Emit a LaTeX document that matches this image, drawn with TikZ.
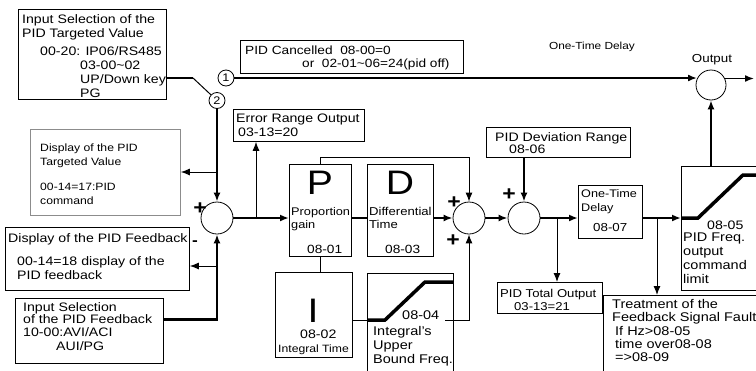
\documentclass[tikz,border=0pt]{standalone}
\usepackage{fontspec}
\setmainfont[FakeStretch=1.15]{Liberation Sans}
\usetikzlibrary{arrows.meta}
\newcommand\fsz[2]{\fontsize{#1}{#2}\selectfont}

\begin{document}
\begin{tikzpicture}[x=1pt, y=-1pt, >={Latex[length=9pt,width=7pt]},
  box/.style={draw, line width=0.8pt, inner sep=0pt, anchor=north west},
  txt/.style={font=\fsz{12.3}{14}, align=left, inner sep=0pt, anchor=base west},
  txtblock/.style={txt, anchor=north west},
  junction/.style={draw, circle, line width=0.8pt, minimum size=32pt, inner sep=0pt},
  port/.style={draw, circle, line width=0.8pt, minimum size=16pt, inner sep=0pt, font=\fsz{11}{11}},
  bigletter/.style={font=\fsz{34}{34}, inner sep=0pt, anchor=base},
  signlbl/.style={font=\fsz{20}{20}\bfseries, inner sep=0pt},
  flow/.style={line width=2.4pt},
  wire/.style={line width=1.6pt},
  sig/.style={line width=1pt},
  ramp/.style={line width=3.5pt}]
  \useasboundingbox (0,0) rectangle (756,370);

  \node[box, minimum width=148pt, minimum height=90pt] (selpid) at (18,9) {};
  \node[txtblock] (selpidt) at (22,14) {Input Selection of the\\PID Targeted Value\\[4pt]\hspace*{18pt}00-20: IP06/RS485\\\hspace*{58pt}03-00\textasciitilde 02\\\hspace*{58pt}UP/Down key\\\hspace*{58pt}PG};

  \node[box, draw=black!45, minimum width=150pt, minimum height=86pt] (showref) at (30,129) {};
  \node[txtblock, font=\fsz{10.6}{14}] (showreft) at (40,143.3) {Display of the PID\\Targeted Value\\[11pt]00-14=17:PID\\command};

  \node[box, minimum width=184pt, minimum height=63pt] (showfb) at (5,227) {};
  \node[txtblock] (showfbt) at (8,233) {Display of the PID Feedback\\[9pt]\hspace*{9pt}00-14=18 display of the\\\hspace*{9pt}PID feedback};

  \node[box, minimum width=148pt, minimum height=65pt] (selfb) at (15,298) {};
  \node[txtblock] (selfbt) at (23,302.5) {Input Selection\\[-2.5pt]of the PID Feedback\\[-0.5pt]10-00:AVI/ACI\\\hspace*{33pt}AUI/PG};

  \node[box, minimum width=131pt, minimum height=32pt] (errout) at (233,109) {};
  \node[txtblock] (errt) at (236,114) {Error Range Output\\\hspace*{2pt}03-13=20};

  \node[box, minimum width=223pt, minimum height=33pt] (pidcan) at (240,40) {};
  \node[txtblock, font=\fsz{11.9}{13.5}] (pidcant) at (245,45.3) {PID Cancelled\ \ 08-00=0\\\hspace*{57pt}or\ \ 02-01\textasciitilde 06=24(pid off)};

  \node[box, minimum width=62pt, minimum height=92pt] (pbox) at (289,164) {};
  \node[bigletter] (pl) at (320,194) {P};
  \node[txtblock, font=\fsz{11.1}{13}] (pt) at (291,206.9) {Proportion\\gain};
  \node[txt, font=\fsz{11.9}{14}] (pnum) at (307,253) {08-01};

  \node[box, minimum width=66pt, minimum height=92pt] (dbox) at (367,164) {};
  \node[bigletter] (dl) at (400,194) {D};
  \node[txtblock, font=\fsz{11.4}{13}] (dt) at (369,206.7) {Differential\\Time};
  \node[txt, font=\fsz{11.9}{14}] (dnum) at (385,253) {08-03};

  \node[box, minimum width=77pt, minimum height=85pt] (ibox) at (275,272) {};
  \node[bigletter] (il) at (313,322) {I};
  \node[txt] (inum) at (300,338) {08-02};
  \node[txt, font=\fsz{10.6}{14}] (it) at (278,352) {Integral Time};

  \node[box, minimum width=86pt, minimum height=99pt] (ilim) at (367,273) {};
  \node[txt, font=\fsz{12.6}{14}] (ilimnum) at (402,319) {08-04};
  \node[txtblock, font=\fsz{12.6}{14}] (ilimt) at (373,325.8) {Integral's\\Upper\\Bound Freq.};

  \node[box, minimum width=144pt, minimum height=30pt] (devr) at (486,127) {};
  \node[txtblock] (devrt) at (495,132.5) {PID Deviation Range\\[-2.4pt]\hspace*{14pt}08-06};

  \node[box, minimum width=64pt, minimum height=53pt] (delay) at (578,185) {};
  \node[txtblock, font=\fsz{11}{14}] (delayt) at (581,189) {One-Time\\Delay};
  \node[txt, font=\fsz{11.6}{14}] (delaynum) at (593,231) {08-07};

  \node[box, minimum width=90pt, minimum height=124pt] (flim) at (681,166) {};
  \node[txt] (flimnum) at (707,229) {08-05};
  \node[txtblock, font=\fsz{12.6}{14}] (flimt) at (683,232.8) {PID Freq.\\output\\command\\limit};

  \node[box, minimum width=105pt, minimum height=31pt] (total) at (497,282) {};
  \node[txtblock, font=\fsz{11.4}{13}] (totalt) at (500,288.7) {PID Total Output\\\hspace*{14pt}03-13=21};

  \node[box, minimum width=160pt, minimum height=80pt] (treat) at (603,295) {};
  \node[txtblock, font=\fsz{12.6}{13.3}] (treatt) at (612,299.3) {Treatment of the\\Feedback Signal Fault\\\hspace*{3pt}If Hz>08-05\\\hspace*{3pt}time over08-08\\\hspace*{3pt}=>08-09};

  \node[port] (sw1) at (226,78) {1};
  \node[port] (sw2) at (217,100.5) {2};
  \node[junction] (sum1) at (217,218) {};
  \node[junction] (sum2) at (469,218) {};
  \node[junction] (sum3) at (524,218) {};
  \node[junction, minimum size=30pt] (out) at (711,85) {};
  \node[font=\fsz{11.6}{14}, anchor=base] (outlbl) at (712,62) {Output};
  \node[font=\fsz{10.3}{12}, anchor=base] (delaylbl) at (592,49) {One-Time Delay};

  \node[signlbl] (s1p) at (200,209) {+};
  \node[signlbl, font=\fsz{15}{15}\bfseries] (s1m) at (195,243) {-};
  \node[signlbl] (s2a) at (454,203) {+};
  \node[signlbl] (s2b) at (453,241) {+};
  \node[signlbl] (s3p) at (509,195) {+};

  \coordinate (swpt) at (193,78);
  \coordinate (tapref) at (217,172);
  \coordinate (tapfb) at (217,266);
  \coordinate (taperr) at (256,218);
  \coordinate (taptot) at (557,218);
  \coordinate (taptr) at (657,218);
  \coordinate (ilimout) at (445,320);
  \coordinate (outend) at (754,78);

  \draw[wire] (selpid.east |- sw1) -- (swpt);
  \draw[sig] (swpt) -- (sw2);
  \draw[flow, ->] (sw1) -- (sw1 -| out.155);
  \draw[wire, ->] (out.25) -- (out.25 -| outend);
  \draw[flow, ->] (sw2) -- (sum1);
  \draw[sig, ->] (tapref) -- (tapref -| showref.east);
  \draw[flow, ->] ([yshift=11.5pt]selfb.east) -| (sum1);
  \draw[sig, ->] (tapfb) -- (tapfb -| showfb.east);
  \draw[flow, ->] (sum1) -- (sum1 -| pbox.west);
  \draw[sig, ->] (taperr) -- (taperr |- errout.south);
  \draw[flow] (sum1 -| pbox.east) -- (sum1 -| dbox.west);
  \draw[flow, ->] (sum1 -| dbox.east) -- (sum2);
  \draw[sig, ->] (pbox.north) -- ++(0,-7) -| (sum2);
  \draw[sig] (pbox.south) -- (pbox.south |- ibox.north);
  \draw[sig] ([yshift=-6pt]ibox.east) -- ([yshift=-6pt]ibox.east -| ilim.west);
  \draw[ramp] (367,320) -- (385,320) -- (425,282) -- (453,282);
  \draw[sig, ->] (ilimout) -| (sum2);
  \draw[flow, ->] (sum2) -- (sum3);
  \draw[flow, ->] (devr.south -| sum3) -- (sum3);
  \draw[flow, ->] (sum3) -- (sum3 -| delay.west);
  \draw[sig, ->] (taptot) -- (taptot |- total.north);
  \draw[flow, ->] (sum3 -| delay.east) -- (sum3 -| flim.west);
  \draw[sig, ->] (taptr) -- (taptr |- treat.north);
  \draw[ramp] (681,218) -- (698,218) -- (743,175) -- (765,175);
  \draw[wire, ->] (out |- flim.north) -- (out);
\end{tikzpicture}
\end{document}
